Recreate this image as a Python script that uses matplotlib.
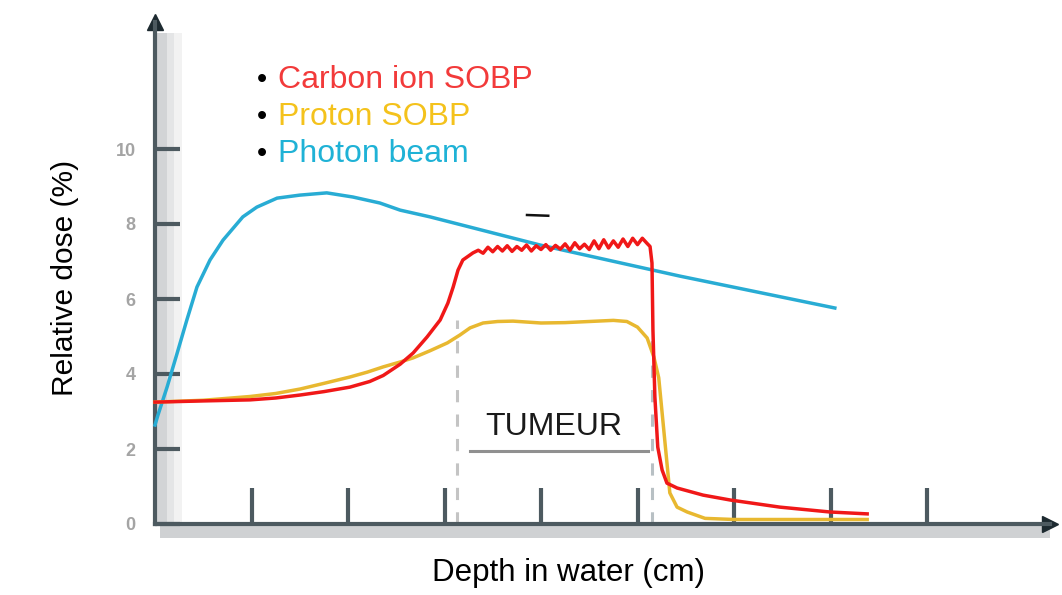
import matplotlib.pyplot as plt
from matplotlib.patches import Rectangle

plt.rcParams['font.family'] = ['Liberation Sans', 'DejaVu Sans']

# depth (cm) / relative dose
photon_depth = [0.0, 0.06, 0.25, 0.46, 0.66, 0.87, 1.14, 1.41, 1.82, 2.11, 2.53, 3.0, 3.56, 4.10, 4.66,
                5.08, 5.70, 7.98, 10.88, 14.09]
photon_dose = [2.64, 2.9, 3.65, 4.56, 5.44, 6.32, 7.04, 7.57, 8.19, 8.45, 8.69, 8.77, 8.83, 8.72, 8.56,
               8.37, 8.19, 7.44, 6.61, 5.76]

carbon_depth = [0.0, 0.93, 1.97, 2.5, 3.01, 3.5, 4.04, 4.45, 4.73, 5.08, 5.35, 5.64, 5.91, 6.07, 6.18,
                6.28, 6.38, 6.59,
                6.7, 6.8, 6.9, 7.0, 7.1, 7.2, 7.3, 7.4, 7.5, 7.6, 7.7, 7.8, 7.9, 8.0, 8.1, 8.2, 8.3,
                8.4, 8.5, 8.6, 8.7, 8.8, 8.9, 9.0, 9.1, 9.2, 9.3, 9.4, 9.5, 9.6, 9.7, 9.8, 9.9, 10.0,
                10.1, 10.2, 10.26, 10.30, 10.32, 10.36, 10.42, 10.51, 10.61, 10.82, 11.36, 11.92,
                12.95, 13.99, 14.76]
carbon_dose = [3.25, 3.28, 3.31, 3.36, 3.44, 3.53, 3.65, 3.8, 3.96, 4.26, 4.56, 4.99, 5.44, 5.89, 6.32,
               6.77, 7.04, 7.23,
               7.30, 7.22, 7.38, 7.26, 7.40, 7.28, 7.42, 7.27, 7.40, 7.30, 7.44, 7.28, 7.42, 7.32, 7.45,
               7.30, 7.43, 7.33, 7.47, 7.30, 7.50, 7.34, 7.46, 7.32, 7.55, 7.34, 7.58, 7.36, 7.55,
               7.38, 7.60, 7.40, 7.62, 7.45, 7.62, 7.48, 7.40, 6.96, 5.17, 3.39, 2.05, 1.44, 1.09,
               0.96, 0.77, 0.64, 0.45, 0.32, 0.27]

proton_depth = [0.0, 1.0, 1.97, 2.5, 3.01, 3.5, 4.04, 4.4, 4.73, 5.08, 5.35, 5.7, 6.06, 6.32, 6.53, 6.80,
                7.1, 7.42, 8.0, 8.5, 9.0, 9.5, 9.78, 10.0, 10.2, 10.34, 10.44, 10.5, 10.56, 10.62,
                10.67, 10.82, 11.03, 11.4, 12.0, 14.76]
proton_dose = [3.25, 3.30, 3.40, 3.48, 3.60, 3.75, 3.92, 4.05, 4.19, 4.32, 4.43, 4.62, 4.83, 5.04, 5.23,
               5.36, 5.40, 5.41, 5.36, 5.37, 5.40, 5.43, 5.40, 5.25, 4.96, 4.45, 3.9, 3.1, 2.3, 1.5,
               0.83, 0.45, 0.32, 0.15, 0.12, 0.12]

y_ticks = [0, 2, 4, 6, 8, 10]
x_ticks = [2, 4, 6, 8, 10, 12, 14, 16]
tumour_start, tumour_end = 6.26, 10.30

legend_labels = ['Carbon ion SOBP', 'Proton SOBP', 'Photon beam']
legend_colors = ['#f23a3a', '#f4c21c', '#1fb2d6']

fig = plt.figure(figsize=(10.62, 5.95), dpi=100)
ax = fig.add_axes([155 / 1062, 71 / 595, 895 / 1062, 502 / 595])
xmax, ymax = 895 / 48.25, 502 / 37.5
ax.set_xlim(0, xmax)
ax.set_ylim(0, ymax)

# axes look like the scanned figure: thick slate lines with a soft grey shadow
axis_col = '#4d5a60'
for s in ['top', 'right']:
    ax.spines[s].set_visible(False)
for s in ['left', 'bottom']:
    ax.spines[s].set_color(axis_col)
    ax.spines[s].set_linewidth(3)
ax.add_patch(Rectangle((0.05, 0), 0.2, ymax - 0.3, color='#d2d4d6', lw=0, zorder=0))
ax.add_patch(Rectangle((0.25, 0), 0.15, ymax - 0.3, color='#e4e5e6', lw=0, zorder=0))
ax.add_patch(Rectangle((0.4, 0), 0.15, ymax - 0.3, color='#f2f2f2', lw=0, zorder=0))
ax.add_patch(Rectangle((0.1, -0.38), xmax - 0.1, 0.33, color='#cfd1d3', lw=0, zorder=0, clip_on=False))
ax.plot([0], [ymax], marker='^', color='#1d2a30', markersize=11, clip_on=False)
ax.plot([xmax], [0], marker='>', color='#1d2a30', markersize=11, clip_on=False)

ax.set_yticks(y_ticks)
ax.set_yticklabels([str(v) for v in y_ticks], color='#a4a4a4', fontsize=13, fontweight='bold')
ax.tick_params(axis='y', direction='in', length=18, width=3, color=axis_col, pad=14)
ax.set_xticks(x_ticks)
ax.set_xticklabels([])
ax.tick_params(axis='x', direction='in', length=26, width=3, color=axis_col)

# tumour markers
ax.plot([tumour_start, tumour_start], [0, 5.44], color='#c4c4c4', lw=2.2, ls=(0, (4, 4)), zorder=1)
ax.plot([tumour_end, tumour_end], [0, 5.2], color='#b8c0c4', lw=2.2, ls=(0, (4, 4)), zorder=1)
ax.plot([6.53, 10.22], [1.95, 1.95], color='#909090', lw=2.2)
ax.text(8.27, 2.59, 'TUMEUR', fontsize=23, color='#1a1a1a', ha='center', va='center')
ax.plot([7.71, 8.15], [8.24, 8.22], color='#111111', lw=1.8)

ax.plot(photon_depth, photon_dose, color='#28acd4', lw=2.5, clip_on=False, zorder=3)
ax.plot(proton_depth, proton_dose, color='#e8b830', lw=2.5, clip_on=False, zorder=3)
ax.plot(carbon_depth, carbon_dose, color='#f01818', lw=2.5, clip_on=False, zorder=4)

for i, (lab, col) in enumerate(zip(legend_labels, legend_colors)):
    yy = 11.84 - i * 0.987
    ax.text(2.22, yy, '\u2022', fontsize=21, color='black', ha='center', va='center')
    ax.text(2.55, yy, lab, fontsize=23, color=col, ha='left', va='center')

fig.text(569 / 1062, 1 - 573 / 595, 'Depth in water (cm)', fontsize=22.5, ha='center', va='center')
fig.text(65 / 1062, 1 - 278 / 595, 'Relative dose (%)', fontsize=21.5, ha='center', va='center',
         rotation=90)

fig.savefig('out.png', dpi=100)
